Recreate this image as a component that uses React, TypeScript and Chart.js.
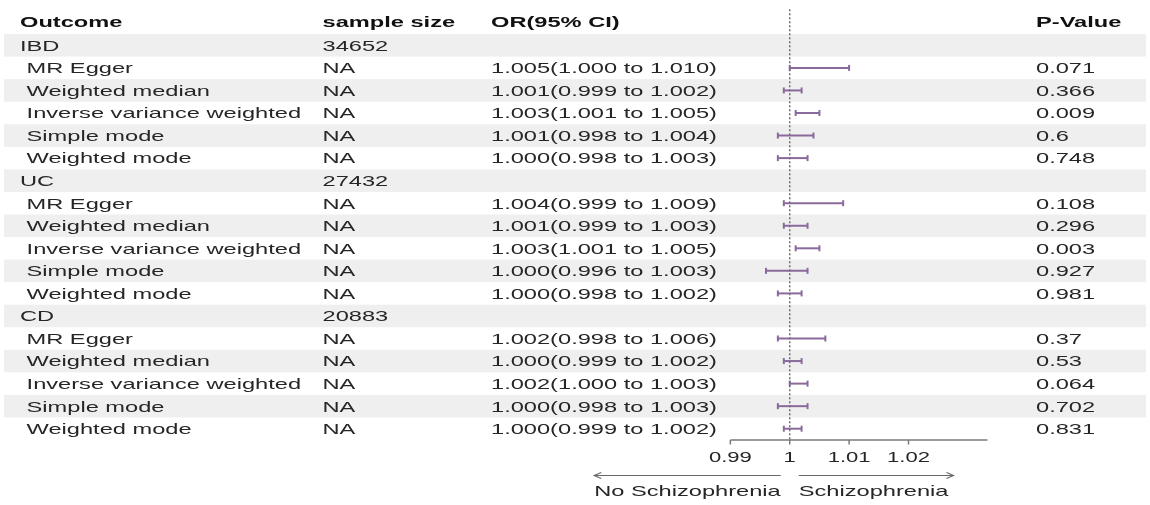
import React, { useEffect, useRef } from 'react';
import { Chart, registerables } from 'chart.js';

Chart.register(...registerables);

// ---- data ----
const outcomes = ['IBD', 'UC', 'CD'];
const sampleSizes = ['34652', '27432', '20883'];
const methods = ['MR Egger', 'Weighted median', 'Inverse variance weighted', 'Simple mode', 'Weighted mode'];
const orEstimate = [1.005, 1.001, 1.003, 1.001, 1.0, 1.004, 1.001, 1.003, 1.0, 1.0, 1.002, 1.0, 1.002, 1.0, 1.0];
const ciLower = [1.0, 0.999, 1.001, 0.998, 0.998, 0.999, 0.999, 1.001, 0.996, 0.998, 0.998, 0.999, 1.0, 0.998, 0.999];
const ciUpper = [1.01, 1.002, 1.005, 1.004, 1.003, 1.009, 1.003, 1.005, 1.003, 1.002, 1.006, 1.002, 1.003, 1.003, 1.002];
const pValues = [0.071, 0.366, 0.009, 0.6, 0.748, 0.108, 0.296, 0.003, 0.927, 0.981, 0.37, 0.53, 0.064, 0.702, 0.831];
const xTicks = [0.99, 1, 1.01, 1.02];
const headers = ['Outcome', 'sample size', 'OR(95% CI)', 'P-Value'];
const arrowLabels = ['No Schizophrenia', 'Schizophrenia'];

// ---- layout ----
const W = 1150;
const H = 505;
const SX = 1.575; // horizontal stretch applied to all text
const FONT = '"Liberation Sans", Arial, Helvetica, sans-serif';
const ROW_H = 23.1;
const ROW0_PX = 17.2;
const PX_PER_UNIT = 6000;
const REF_PX = 792;
const AXIS_MAX = 1.0333;
const COL_X = [20, 322.5, 491, 1036];
const BAR_COLOR = '#8a6a9c';
const BAND_COLOR = '#efefef';
const AXIS_COLOR = '#7a7a7a';

type Row = { cells: string[]; bar?: number; bold?: boolean };

const rows: Row[] = [{ cells: headers, bold: true }];
outcomes.forEach((o, g) => {
  rows.push({ cells: [o, sampleSizes[g], '', ''] });
  methods.forEach((m, k) => {
    const i = g * methods.length + k;
    rows.push({
      cells: [
        ' ' + m,
        'NA',
        `${orEstimate[i].toFixed(3)}(${ciLower[i].toFixed(3)} to ${ciUpper[i].toFixed(3)})`,
        String(pValues[i]),
      ],
      bar: i,
    });
  });
});
const LAST_ROW = rows.length - 1;
const AXIS_ROW = LAST_ROW + 0.5;

function stretchedText(ctx: CanvasRenderingContext2D, text: string, x: number, y: number, align: 'left' | 'right' | 'center' = 'left') {
  const w = ctx.measureText(text).width * SX;
  let x0 = x;
  if (align === 'right') x0 = x - w;
  if (align === 'center') x0 = x - w / 2;
  ctx.save();
  ctx.translate(x0, y);
  ctx.scale(SX, 1);
  ctx.textAlign = 'left';
  ctx.textBaseline = 'alphabetic';
  ctx.fillText(text, 0, 0);
  ctx.restore();
  return w;
}

const tablePlugin = {
  id: 'forestTable',
  beforeDatasetsDraw(chart: any) {
    const ctx: CanvasRenderingContext2D = chart.ctx;
    const ys = chart.scales.y;
    ctx.save();
    // zebra bands
    ctx.fillStyle = BAND_COLOR;
    for (let r = 1; r <= LAST_ROW; r += 2) {
      const y0 = ys.getPixelForValue(r - 0.5);
      const y1 = ys.getPixelForValue(r + 0.5);
      ctx.fillRect(4, y0, W - 8, y1 - y0);
    }
    // table text
    rows.forEach((row, r) => {
      const yc = ys.getPixelForValue(r) - (row.bold ? 1 : 0);
      ctx.font = `${row.bold ? 'bold ' : ''}15px ${FONT}`;
      ctx.fillStyle = row.bold ? '#111' : '#262626';
      row.cells.forEach((c, j) => {
        if (c) stretchedText(ctx, c, COL_X[j], yc + 5.4);
      });
    });
    ctx.restore();
  },
  afterDatasetsDraw(chart: any) {
    const ctx: CanvasRenderingContext2D = chart.ctx;
    const xs = chart.scales.x;
    const ys = chart.scales.y;
    const ya = ys.getPixelForValue(AXIS_ROW);
    ctx.save();
    // tick marks and labels
    ctx.strokeStyle = AXIS_COLOR;
    ctx.lineWidth = 1.5;
    ctx.fillStyle = '#262626';
    ctx.font = `14px ${FONT}`;
    xTicks.forEach((t) => {
      const x = xs.getPixelForValue(t);
      ctx.beginPath();
      ctx.moveTo(x, ya);
      ctx.lineTo(x, ya + 4.5);
      ctx.stroke();
      stretchedText(ctx, String(t), x, ya + 22, 'center');
    });
    // direction arrows
    const x1 = xs.getPixelForValue(1);
    const yArrow = ya + 35.5;
    const yLab = ya + 56;
    ctx.font = `15px ${FONT}`;
    const wl = ctx.measureText(arrowLabels[0]).width * SX;
    const wr = ctx.measureText(arrowLabels[1]).width * SX;
    stretchedText(ctx, arrowLabels[0], x1 - 9, yLab, 'right');
    stretchedText(ctx, arrowLabels[1], x1 + 9, yLab, 'left');
    ctx.strokeStyle = '#6a6a6a';
    ctx.lineWidth = 1.2;
    const lx0 = x1 - 9;
    const lx1 = x1 - 9 - wl;
    const rx0 = x1 + 9;
    const rx1 = x1 + 9 + wr + 5;
    ctx.beginPath();
    ctx.moveTo(lx0, yArrow);
    ctx.lineTo(lx1, yArrow);
    ctx.moveTo(lx1 + 7, yArrow - 3);
    ctx.lineTo(lx1, yArrow);
    ctx.lineTo(lx1 + 7, yArrow + 3);
    ctx.moveTo(rx0, yArrow);
    ctx.lineTo(rx1, yArrow);
    ctx.moveTo(rx1 - 7, yArrow - 3);
    ctx.lineTo(rx1, yArrow);
    ctx.lineTo(rx1 - 7, yArrow + 3);
    ctx.stroke();
    ctx.restore();
  },
};

export default function App() {
  const ref = useRef<HTMLCanvasElement | null>(null);

  useEffect(() => {
    if (!ref.current) return;
    const xMin = 1 - REF_PX / PX_PER_UNIT;
    const xMax = xMin + W / PX_PER_UNIT;
    const yMin = -ROW0_PX / ROW_H;
    const yMax = yMin + H / ROW_H;

    const barSets = rows
      .map((row, r) => ({ row, r }))
      .filter(({ row }) => row.bar !== undefined)
      .map(({ row, r }) => {
        const i = row.bar as number;
        return {
          label: `ci-${i}`,
          data: [
            { x: ciLower[i], y: r },
            { x: ciUpper[i], y: r },
          ],
          borderColor: BAR_COLOR,
          borderWidth: 2,
          pointStyle: 'line',
          pointRotation: 90,
          pointRadius: 3,
          pointBorderWidth: 2,
          pointBorderColor: BAR_COLOR,
          pointBackgroundColor: BAR_COLOR,
          showLine: true,
        };
      });

    const chart = new Chart(ref.current, {
      type: 'scatter',
      data: {
        datasets: [
          {
            label: 'reference',
            data: [
              { x: 1, y: -0.6 },
              { x: 1, y: AXIS_ROW },
            ],
            borderColor: '#6f6f6f',
            borderWidth: 1.5,
            borderDash: [2, 2],
            pointRadius: 0,
            showLine: true,
          },
          {
            label: 'axis',
            data: [
              { x: xTicks[0], y: AXIS_ROW },
              { x: AXIS_MAX, y: AXIS_ROW },
            ],
            borderColor: AXIS_COLOR,
            borderWidth: 1.5,
            pointRadius: 0,
            showLine: true,
          },
          ...barSets,
        ] as any,
      },
      options: {
        animation: false,
        responsive: false,
        devicePixelRatio: 1,
        layout: { padding: 0 },
        events: [],
        plugins: {
          legend: { display: false },
          tooltip: { enabled: false },
          title: { display: false },
        },
        scales: {
          x: { type: 'linear', display: false, min: xMin, max: xMax },
          y: { type: 'linear', display: false, min: yMin, max: yMax, reverse: true },
        },
      },
      plugins: [tablePlugin],
    });
    return () => chart.destroy();
  }, []);

  return (
    <div style={{ position: 'fixed', left: 0, top: 0, width: W, height: H, background: '#fff' }}>
      <canvas ref={ref} width={W} height={H} style={{ display: 'block', width: W, height: H }} />
    </div>
  );
}
